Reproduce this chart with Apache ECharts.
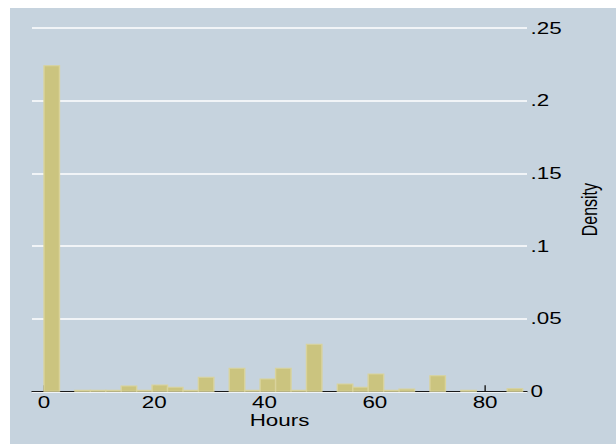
<!DOCTYPE html>
<html>
<head>
<meta charset="utf-8">
<script src="https://cdn.jsdelivr.net/npm/echarts@6/dist/echarts.min.js"></script>
<style>
html,body{margin:0;padding:0;background:#ffffff;width:616px;height:444px;overflow:hidden}
#wrap{position:absolute;left:10px;top:8px;width:606px;height:436px;overflow:hidden;background:#c6d3de}
#chart{position:absolute;left:0;top:0;width:433px;height:436px;transform:scaleX(1.39954);transform-origin:0 0}
</style>
</head>
<body>
<div id="wrap"><div id="chart"></div></div>
<script>
// Histogram bins (Hours): left edges, common bin width, and densities
const binLeft = [0, 2.8, 5.6, 8.4, 11.2, 14, 16.8, 19.6, 22.4, 25.2, 28, 30.8, 33.6, 36.4, 39.2, 42,
                 44.8, 47.6, 50.4, 53.2, 56, 58.8, 61.6, 64.4, 67.2, 70, 72.8, 75.6, 78.4, 81.2, 84];
const binWidth = 2.8;
const density = [0.224, 0, 0.0007, 0.0007, 0.0007, 0.0037, 0.0007, 0.0043, 0.0028, 0.0007, 0.0096, 0,
                 0.0158, 0.0007, 0.0085, 0.0158, 0.0007, 0.0323, 0, 0.005, 0.0028, 0.0119, 0.0007, 0.0015,
                 0, 0.0107, 0, 0.0007, 0, 0, 0.0018];
const xTickValues = [0, 20, 40, 60, 80];
const xTickLabels = ['0', '20', '40', '60', '80'];
const yTickLabels = ['0', '.05', '.1', '.15', '.2', '.25'];

const FONT = 'Liberation Sans, Arial, sans-serif';
const FS = 16;
const data = [];
binLeft.forEach((l, i) => { if (density[i] > 0) data.push([l, l + binWidth, density[i]]); });

const chart = echarts.init(document.getElementById('chart'), null, {renderer: 'svg', width: 433, height: 436});
chart.setOption({
  backgroundColor: 'transparent',
  animation: false,
  grid: {left: 15.72, right: 63.59, top: 20, bottom: 52.7, containLabel: false},
  xAxis: {
    type: 'value', min: -2.18, max: 87.6,
    name: 'Hours', nameLocation: 'middle', nameGap: 21, nameMoveOverlap: false,
    nameTextStyle: {fontFamily: FONT, fontSize: FS, color: '#000'},
    axisLine: {show: true, onZero: false, lineStyle: {color: '#1a1a1a', width: 1}},
    axisTick: {show: true, inside: true, length: 6, customValues: xTickValues, lineStyle: {color: '#1a1a1a', width: 1}},
    axisLabel: {show: true, customValues: xTickValues, margin: 3, fontFamily: FONT, fontSize: FS, color: '#000',
      formatter: (v) => xTickLabels[xTickValues.indexOf(v)]},
    splitLine: {show: false}
  },
  yAxis: {
    type: 'value', position: 'right', min: 0, max: 0.25, interval: 0.05,
    name: 'Density', nameLocation: 'middle', nameGap: 36, nameRotate: 90, nameMoveOverlap: false,
    nameTextStyle: {fontFamily: FONT, fontSize: FS, color: '#000'},
    axisLine: {show: false}, axisTick: {show: false},
    axisLabel: {margin: 2.5, fontFamily: FONT, fontSize: FS, color: '#000',
      formatter: (v, i) => yTickLabels[i]},
    splitLine: {show: true, lineStyle: {color: '#ffffff', width: 1.6}}
  },
  series: [{
    type: 'custom',
    data: data,
    encode: {x: [0, 1], y: 2},
    z: 1,
    renderItem: function (params, api) {
      const p0 = api.coord([api.value(0), api.value(2)]);
      const p1 = api.coord([api.value(1), 0]);
      return {
        type: 'rect',
        shape: {x: p0[0], y: p0[1], width: p1[0] - p0[0], height: p1[1] - p0[1]},
        style: {fill: '#cbc47f', stroke: '#d9d39c', lineWidth: 1}
      };
    }
  }]
});
</script>
</body>
</html>
